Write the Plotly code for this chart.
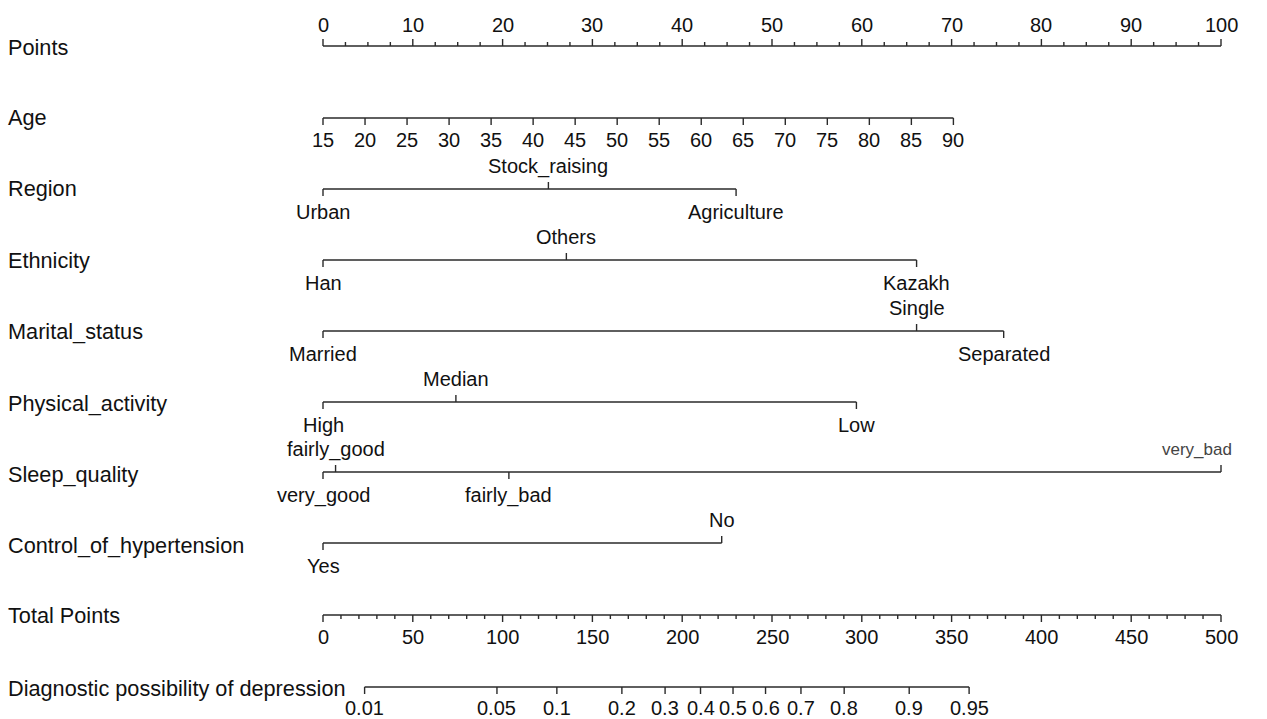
import numpy as np
import plotly.graph_objects as go

# ---- nomogram content -------------------------------------------------------
points_major = list(range(0, 101, 10))
points_minor = [i * 2.5 for i in range(41)]

age_values = list(range(15, 91, 5))
age_points_at_max = 70.2          # points contributed by age 90 (age 15 = 0)

region_levels = ["Urban", "Stock_raising", "Agriculture"]
region_points = [0, 25.1, 46.0]

ethnicity_levels = ["Han", "Others", "Kazakh"]
ethnicity_points = [0, 27.1, 66.1]

marital_levels = ["Married", "Single", "Separated"]
marital_points = [0, 66.1, 75.8]

activity_levels = ["High", "Median", "Low"]
activity_points = [0, 14.8, 59.4]

sleep_levels = ["very_good", "fairly_good", "fairly_bad", "very_bad"]
sleep_points = [0, 1.4, 20.7, 100]

hypertension_levels = ["Yes", "No"]
hypertension_points = [0, 44.4]

total_major = list(range(0, 501, 50))
total_minor = list(range(0, 501, 10))

prob_ticks = [0.01, 0.05, 0.1, 0.2, 0.3, 0.4, 0.5, 0.6, 0.7, 0.8, 0.9, 0.95]
prob_labels = ["0.01", "0.05", "0.1", "0.2", "0.3", "0.4", "0.5", "0.6", "0.7", "0.8", "0.9", "0.95"]
lp_slope = 0.0224                  # linear predictor per total point
lp_zero_total = 228.3              # total points where probability = 0.5

row_names = ["Points", "Age", "Region", "Ethnicity", "Marital_status",
             "Physical_activity", "Sleep_quality", "Control_of_hypertension",
             "Total Points", "Diagnostic possibility of depression"]

# ---- layout constants -------------------------------------------------------
W, H = 1267, 719
X0_PX, X100_PX = 323, 1221
PPU = (X100_PX - X0_PX) / 100.0
XRANGE = [-X0_PX / PPU, (W - X0_PX) / PPU]

FONT = "Liberation Sans, Arial, Helvetica, sans-serif"
FS = 20
FS_ROW = 21.7
INK = "#111111"
LINE_INK = "#2a2a2a"
LINE_W = 1.4

label_y = [47, 117, 188, 260, 331, 403, 474, 545, 615, 688]
line_y = [46, 118, 189, 260, 331, 402, 472, 543, 615, 687]
TICK = 7
OFF_UP = 23
OFF_DN = 23

fig = go.Figure()
ann = []


def add_path(xs, ys):
    fig.add_trace(go.Scatter(x=xs, y=ys, mode="lines",
                             line=dict(color=LINE_INK, width=LINE_W),
                             hoverinfo="skip", showlegend=False))


def text(x, y, s, xanchor="center", xref="x", color=INK, xshift=0, size=FS):
    ann.append(dict(x=x, y=y, xref=xref, yref="y", text=s, showarrow=False,
                    xanchor=xanchor, yanchor="middle", xshift=xshift,
                    font=dict(family=FONT, size=size, color=color)))


# left-hand row names
for name, yy in zip(row_names, label_y):
    text(6 / W, yy, name, xanchor="left", xref="paper", size=FS_ROW)

# Points scale (ticks pointing up)
y = line_y[0]
xs, ys = [0, 100, None], [y, y, None]
for v in points_minor:
    top = y - TICK if v in points_major else y - 4
    xs += [v, v, None]
    ys += [y, top, None]
add_path(xs, ys)
for v in points_major:
    text(v, 25, str(v))

# Age scale
y = line_y[1]
age_x = [(a - 15) / (90 - 15) * age_points_at_max for a in age_values]
xs, ys = [age_x[0], age_x[-1], None], [y, y, None]
for ax in age_x:
    xs += [ax, ax, None]
    ys += [y, y + TICK, None]
add_path(xs, ys)
for a, ax in zip(age_values, age_x):
    text(ax, 140, str(a))


# categorical predictors: levels alternate below / above the line
def categorical(row, levels, pts, label_style=None):
    y = line_y[row]
    order = np.argsort(pts)
    xs, ys = [min(pts), max(pts), None], [y, y, None]
    for k, idx in enumerate(order):
        up = k % 2 == 1
        xs += [pts[idx], pts[idx], None]
        ys += [y, y - TICK if up else y + TICK, None]
        style = (label_style or {}).get(levels[idx], {})
        text(pts[idx], y - OFF_UP if up else y + OFF_DN, levels[idx], **style)
    add_path(xs, ys)


categorical(2, region_levels, region_points)
categorical(3, ethnicity_levels, ethnicity_points)
categorical(4, marital_levels, marital_points)
categorical(5, activity_levels, activity_points)
categorical(6, sleep_levels, sleep_points,
            label_style={"very_bad": dict(xshift=-24, size=17, color="#444444")})
categorical(7, hypertension_levels, hypertension_points)

# Total points scale (ticks pointing down)
y = line_y[8]
xs, ys = [0, 100, None], [y, y, None]
for v in total_minor:
    bot = y + TICK if v in total_major else y + 4
    xs += [v / 5, v / 5, None]
    ys += [y, bot, None]
add_path(xs, ys)
for v in total_major:
    text(v / 5, 637, str(v))

# probability scale
y = line_y[9]
p = np.array(prob_ticks)
prob_x = (lp_zero_total + np.log(p / (1 - p)) / lp_slope) / 5
xs, ys = [prob_x[0], prob_x[-1], None], [y, y, None]
for px in prob_x:
    xs += [px, px, None]
    ys += [y, y + TICK, None]
add_path(xs, ys)
for px, lab in zip(prob_x, prob_labels):
    text(px, 708, lab)

fig.update_layout(
    width=W, height=H,
    margin=dict(l=0, r=0, t=0, b=0),
    paper_bgcolor="white", plot_bgcolor="white",
    xaxis=dict(range=XRANGE, visible=False, fixedrange=True),
    yaxis=dict(range=[H, 0], visible=False, fixedrange=True),
    annotations=ann,
    showlegend=False,
)

fig.write_html("out.html", config={"displayModeBar": False})
